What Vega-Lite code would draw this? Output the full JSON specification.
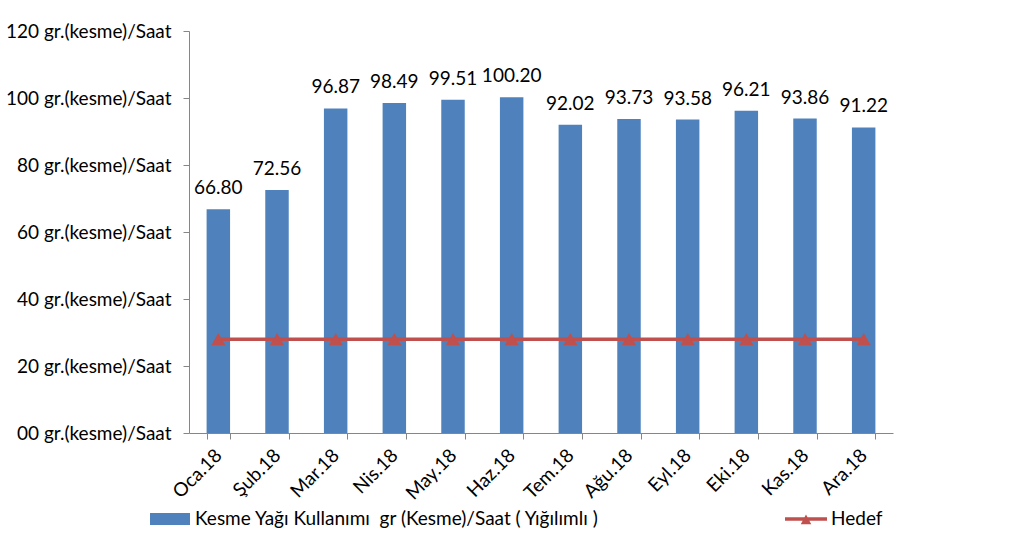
{
  "$schema": "https://vega.github.io/schema/vega-lite/v6.json",
  "autosize": "none",
  "width": 704,
  "height": 402,
  "padding": {"left": 189, "top": 31, "right": 131, "bottom": 117},
  "background": "white",
  "config": {
    "font": "Lato",
    "view": {"stroke": null},
    "axis": {"grid": false, "domainColor": "#868686", "tickColor": "#868686", "labelColor": "#000000", "labelFont": "Lato", "labelFontSize": 19, "title": null}
  },
  "data": {
    "values": [
      {"month": "Oca.18", "value": 66.80, "hedef": 28},
      {"month": "Şub.18", "value": 72.56, "hedef": 28},
      {"month": "Mar.18", "value": 96.87, "hedef": 28},
      {"month": "Nis.18", "value": 98.49, "hedef": 28},
      {"month": "May.18", "value": 99.51, "hedef": 28},
      {"month": "Haz.18", "value": 100.20, "hedef": 28},
      {"month": "Tem.18", "value": 92.02, "hedef": 28},
      {"month": "Ağu.18", "value": 93.73, "hedef": 28},
      {"month": "Eyl.18", "value": 93.58, "hedef": 28},
      {"month": "Eki.18", "value": 96.21, "hedef": 28},
      {"month": "Kas.18", "value": 93.86, "hedef": 28},
      {"month": "Ara.18", "value": 91.22, "hedef": 28}
    ]
  },
  "encoding": {
    "x": {
      "field": "month", "type": "ordinal", "sort": null,
      "scale": {"paddingInner": 0.6, "paddingOuter": 0.3},
      "axis": {"labelAngle": -45, "labelAlign": "right", "labelBaseline": "middle", "tickBand": "extent", "tickSize": 6, "labelPadding": 13, "labelFontSize": 19}
    }
  },
  "layer": [
    {
      "mark": {"type": "bar"},
      "encoding": {
        "y": {
          "field": "value", "type": "quantitative",
          "scale": {"domain": [0, 120], "nice": false},
          "axis": {"values": [0, 20, 40, 60, 80, 100, 120], "tickSize": 6, "labelPadding": 12,
            "labelExpr": "(datum.value == 0 ? '00' : datum.value) + ' gr.(kesme)/Saat'"}
        },
        "color": {
          "datum": "Kesme Yağı Kullanımı  gr (Kesme)/Saat ( Yığılımlı )",
          "scale": {"range": ["#4F81BD"]},
          "legend": {
            "orient": "none", "legendX": -39, "legendY": 468, "title": null, "padding": 0,
            "symbolType": "M-1,-0.3H1V0.3H-1Z", "symbolSize": 1600, "symbolStrokeWidth": 0,
            "labelFont": "Lato", "labelFontSize": 19, "labelColor": "#000000", "labelOffset": 5, "labelLimit": 600,
            "labelExpr": "replace(datum.label, 'ı  gr', 'ı\u00a0 gr')"
          }
        }
      }
    },
    {
      "mark": {"type": "text", "baseline": "bottom", "dy": -11, "fontSize": 19, "font": "Lato", "color": "#000000"},
      "encoding": {
        "y": {"field": "value", "type": "quantitative"},
        "text": {"field": "value", "type": "quantitative", "format": ".2f"}
      }
    },
    {
      "mark": {"type": "line", "strokeWidth": 3.5},
      "encoding": {
        "y": {"field": "hedef", "type": "quantitative"},
        "stroke": {
          "datum": "Hedef",
          "scale": {"range": ["#C0504D"]},
          "legend": {
            "orient": "none", "legendX": 596, "legendY": 467, "title": null, "padding": 0,
            "symbolType": "M-1,-0.08H1V0.08H-1Z M-0.25,0.25L0,-0.22L0.25,0.25Z", "symbolSize": 1764,
            "symbolStrokeWidth": 0,
            "labelFont": "Lato", "labelFontSize": 19, "labelColor": "#000000", "labelOffset": 4,
            "encode": {"symbols": {"update": {"fill": {"value": "#C0504D"}, "strokeWidth": {"value": 0}}}}
          }
        }
      }
    },
    {
      "mark": {"type": "point", "shape": "triangle-up", "filled": true, "size": 200, "color": "#C0504D", "opacity": 1},
      "encoding": {
        "y": {"field": "hedef", "type": "quantitative"}
      }
    }
  ]
}
